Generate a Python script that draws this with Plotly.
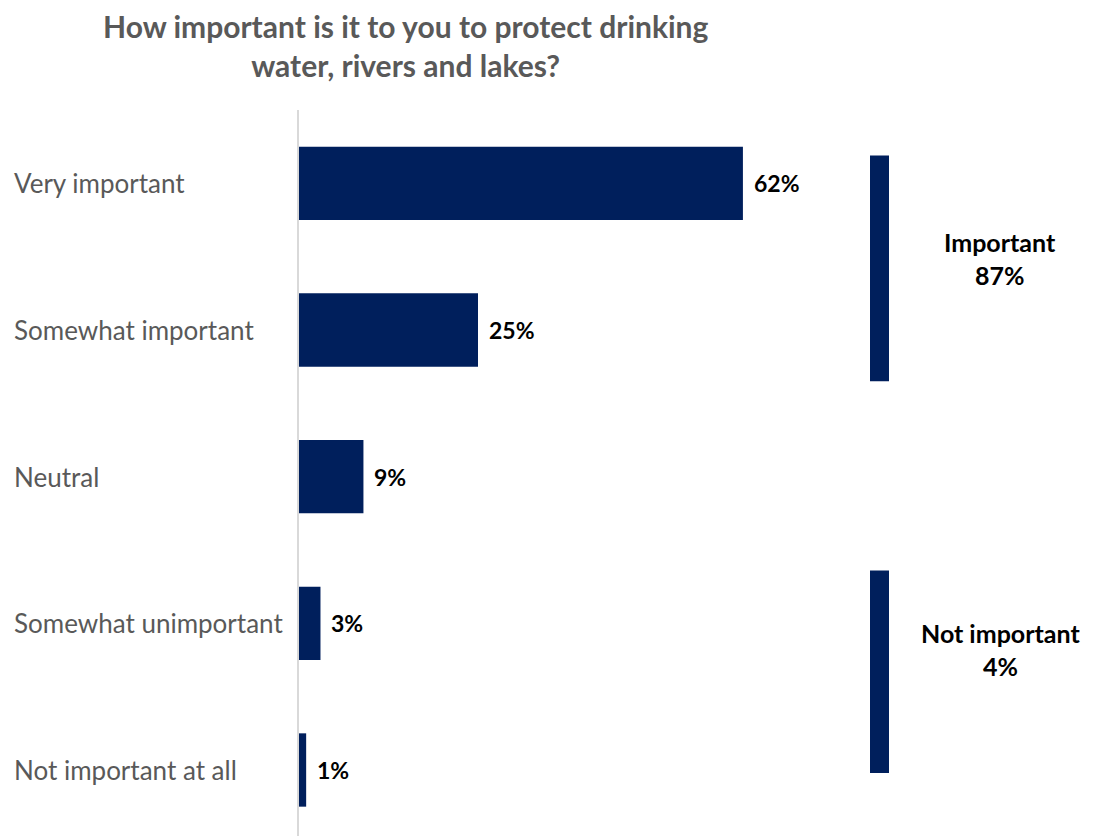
import plotly.graph_objects as go

categories = ["Very important", "Somewhat important", "Neutral", "Somewhat unimportant", "Not important at all"]
values = [62, 25, 9, 3, 1]
group_names = ["Important", "Not important"]
group_values = [87, 4]
group_spans = [(-0.19, 1.35), (2.64, 4.02)]

title_text = "How important is it to you to protect drinking<br>water, rivers and lakes?"

NAVY = "#001F5C"
GRAY = "#595959"
FONT = "Lato, 'Open Sans', sans-serif"

W, H = 1099, 836
L, T = 299, 110
plot_w = W - L
plot_h = H - T

fig = go.Figure()
fig.add_trace(go.Bar(
    y=list(range(len(categories))),
    x=values,
    orientation="h",
    marker=dict(color=NAVY, line=dict(width=0)),
    width=0.5,
    hoverinfo="skip",
))

# value labels
for i, v in enumerate(values):
    fig.add_annotation(
        x=v, xref="x", xanchor="left", xshift=9,
        y=i, yref="y", yanchor="middle",
        text=f"{v}%", showarrow=False,
        font=dict(family=FONT, size=23, color="#000000", weight="bold"),
    )

# category labels (left-aligned)
for i, c in enumerate(categories):
    fig.add_annotation(
        x=-(L - 12) / plot_w, xref="paper", xanchor="left",
        y=i, yref="y", yanchor="middle",
        text=c, showarrow=False,
        font=dict(family=FONT, size=26, color=GRAY),
    )

# group brackets and labels
label_offsets = [0.07, 0.155]
for name, val, (y0, y1), off in zip(group_names, group_values, group_spans, label_offsets):
    fig.add_shape(type="rect", xref="paper", yref="y",
                  x0=(870 - L) / plot_w, x1=(889 - L) / plot_w,
                  y0=y0, y1=y1, fillcolor=NAVY, line=dict(width=0))
    fig.add_annotation(
        x=(1000 - L) / plot_w, xref="paper", xanchor="center",
        y=(y0 + y1) / 2 - off, yref="y", yanchor="middle",
        text=f"{name}<br>{val}%", showarrow=False,
        font=dict(family=FONT, size=25, color="#000000", weight="bold"),
    )

fig.add_annotation(
    x=(406 - L) / plot_w, xref="paper", xanchor="center",
    y=(H - 45) / plot_h, yref="paper", yanchor="middle",
    text=title_text, showarrow=False,
    font=dict(family=FONT, size=30, color=GRAY, weight="bold"),
)

fig.update_layout(
    width=W, height=H,
    margin=dict(l=L, r=0, t=T, b=0),
    paper_bgcolor="white", plot_bgcolor="white",
    showlegend=False,
    xaxis=dict(range=[0, plot_w / 7.16], visible=False, fixedrange=True),
    yaxis=dict(range=[4.45, -0.5], showticklabels=False, showgrid=False,
               zeroline=False, showline=True, linecolor="#D9D9D9", linewidth=2,
               ticks=""),
)

fig.write_html("out.html")
